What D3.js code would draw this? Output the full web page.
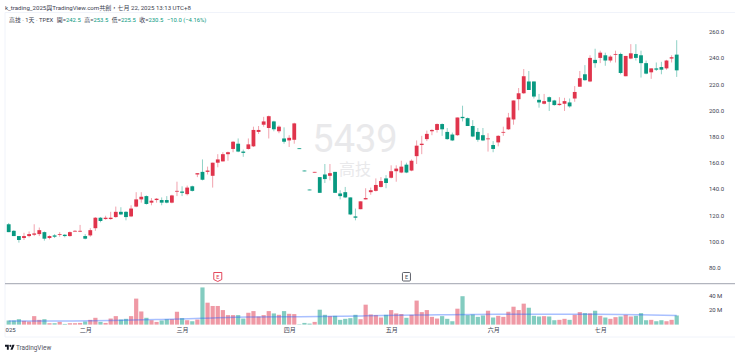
<!DOCTYPE html>
<html>
<head>
<meta charset="utf-8">
<script src="https://cdn.jsdelivr.net/npm/d3@7"></script>
<style>
    html, body { margin: 0; padding: 0; background: #fff; }
    svg { display: block; }
    text { font-family: Roboto, "Noto Sans CJK TC", sans-serif; }
    .axis text { fill: #3d4150; font-size: 6px; }
    .axis path, .axis line { display: none; }
</style>
</head>
<body>
<div id="chart"></div>
<script>
// daily candles, first session of 2025 to 22 July
var opens = [113,108,104,102.5,104,105,105.5,107,102.5,104.5,
    105,105,104,107.5,107.5,104,104.5,110,118,117,
    117,118.5,122.5,122.5,119,126.5,132,134.5,129.5,131.5,
    131.5,131.5,129.5,138,138,136,142,151,153,153,
    150,160,161,166.5,170.5,174.5,168.5,170.5,172.5,183.5,
    189,186.5,191.5,184,178.5,177,177.5,171,154,139.5,
    152.5,149,151,150,153,136.5,137.5,133.5,119,124.5,
    132,137.5,138.5,141.5,148,148.5,153.5,152.5,158.5,154,
    165,173.5,178,184,185,189.5,183.5,181.5,181,195,
    194,188,183.5,181,178,173.5,175.5,183,185.5,193,
    208.5,213,222,222,208,205,210,207.5,204,205,
    206,209,218,227.5,222,238.5,240,242,238,242.5,
    243,226,239.5,243,242,236,229,232,233,232,
    239.5,242.5];
var highs = [114,108.5,104,106.5,107.5,113,110.5,107.5,104.5,105.5,
    107,105.5,107.5,108.5,112.5,105.5,110,118.5,118.5,119.5,
    122.5,126.5,126,123,127.5,137.5,137.5,135,133,133,
    133.5,134.5,135.5,145.5,142,142.5,142.5,152,162.5,157,
    160,166.5,168,168.5,176.5,178.5,170,178.5,187.5,188,
    195,196,192,188.5,187,181,190.5,171,154,139.5,
    153,149,159,159,153,139,141.5,133.5,125,130.5,
    140.5,141,148,149,150.5,158,158,161.5,160,162.5,
    177,180.5,184.5,185.5,190,190,186.5,183,194.5,203.5,
    194.5,192.5,186.5,186.5,182.5,176.5,181,187.5,198,207.5,
    217,231.5,230,222,212.5,212.5,210.5,208,210,209.5,
    209,218.5,230,234.5,242,247,245.5,244,242,245.5,
    244,241.5,250.5,250.5,245.5,238,232,236.5,237,238.5,
    242,253.5];
var lows = [107,104,99,101,103,104,104,100.5,101.5,102.5,
    103.5,103,103.5,107.5,107,101.5,103.5,108,114.5,116.5,
    116.5,118,120,116,118.5,126,129.5,128,127.5,129.5,
    127.5,129,129,134.5,134.5,135,138,149,146.5,151,
    141,156.5,161,161.5,168,168,164.5,170,172,182,
    187.5,178.5,184,182.5,174.5,172,174.5,170.5,153.5,139,
    152.5,137,144.5,146.5,137,132,133,120,116,124.5,
    132,135.5,138,141,140.5,148,145.5,152,152,153.5,
    159,166.5,176.5,181,183,180.5,177.5,176.5,180.5,191.5,
    188,179.5,176,176.5,168.5,168,172.5,180.5,185,189,
    200,212.5,215.5,209,202,204.5,199.5,203.5,203.5,199.5,
    202,206.5,218,222.5,221.5,232.5,236,234,236.5,236.5,
    227.5,226,239,238,225,227.5,224,230,227.5,231,
    236.5,225.5];
var closes = [107,104,101,104,105.5,106,108.5,102,104,103.5,
    105.5,104,107,108,108,102,108.5,118,115.5,118,
    118,122.5,120.5,118.5,125,132,134,128.5,131,132.5,
    129.5,129.5,135,138.5,137,141,138.5,152,147,154,
    160,162.5,166.5,168,176,168.5,167.5,174,185,185,
    191.5,195.5,185.5,187.5,176,179,190,170.5,153.5,139,
    153,137,147.5,152,137,134.5,133.5,120.5,118,130.5,
    133,139,143,146,144.5,153.5,155.5,157,152.5,161.5,
    173,174.5,182,185,189.5,185.5,178,177,194.5,194,
    188,180,177.5,177,178.5,170.5,180.5,183.5,194.5,207.5,
    213,226,215.5,210.5,206,207,206.5,204,205,207,
    203,214,224.5,223,240,236,244,238,241,243,
    228.5,241.5,243.5,240,236,228,232,231,231,238,
    240.5,230.5];
// volume in millions of shares
var volumes = [5.6,5.6,7.4,5.1,4.2,11.6,6.5,7.4,1.9,1.9,
    3.7,0.9,1.9,1.9,2.3,4.2,6.5,9.3,3.7,2.3,
    8.3,11.6,6.9,7.9,11.6,35.6,18,9.3,6,3.7,
    5.6,7.4,7.4,17.6,8.8,6,4.6,6.9,50.9,30,
    25.5,25.5,19.9,13,13,13,8.3,16.2,18.5,11.1,
    13,18.5,15.3,13.4,18.5,14.8,14.4,0.5,2.3,1.4,
    3.7,20.4,13.4,11.6,12,6.5,7.9,8.8,13.4,7.4,
    27.3,13.9,13,9.7,13.4,19.9,15.3,14.4,9.3,13.4,
    32.9,17.1,19.9,10.6,8.3,11.6,7.9,4.6,21.8,38.9,
    13,13.9,10.6,12.5,19,9.7,12,10.6,17.6,24.5,
    19.9,28.7,23.1,12,11.1,11.6,11.1,6,6.5,7.9,
    6.5,13.4,17.1,15.7,15.3,19,12,9.7,7.9,10.2,
    11.1,13.4,11.1,12,15.7,6,6.5,4.6,6,4.6,
    6.5,12.5];
// volume average, read at a few sessions
var maSessions = [0,10,20,30,38,47,57,70,80,96,115,131];
var maValues = [5,5,5.5,7,8.6,10.4,10.9,12,13,14.3,14.3,12.5];

var priceTicks = [80,100,120,140,160,180,200,220,240,260];
var volumeTicks = [20,40];
var monthSessions = [0,15,34,55,75,95,116];
var monthLabels = ["025","二月","三月","四月","五月","六月","七月"];
var earningsSessions = [41,78];

var upColor = "#e0344c";
var downColor = "#089981";

var svgWidth = 740, svgHeight = 355;
var paneLeft = 5;

var svg = d3.select("#chart").append("svg")
    .attr("width", svgWidth)
    .attr("height", svgHeight);

var x = d3.scaleLinear().domain([0, 131]).range([8.7, 676.7]);
var y = d3.scaleLinear().domain([80, 260]).range([267.5, 31.7]);
var yVol = d3.scaleLinear().domain([0, 40]).range([324.6, 295.4]);

var candleColor = function(i) { return closes[i] >= opens[i] ? upColor : downColor; };
var sessions = d3.range(opens.length);

// pane frame
svg.append("g").selectAll("line")
    .data([[paneLeft, 12.5, 735, 12.5], [paneLeft, 12.5, paneLeft, 337], [paneLeft, 337, 735, 337]])
    .enter().append("line")
    .attr("x1", function(d) { return d[0]; })
    .attr("y1", function(d) { return d[1]; })
    .attr("x2", function(d) { return d[2]; })
    .attr("y2", function(d) { return d[3]; })
    .attr("stroke", "#f0f3fa");

svg.append("line")
    .attr("x1", paneLeft).attr("x2", 735)
    .attr("y1", 283.6).attr("y2", 283.6)
    .attr("stroke", "#b2b5be")
    .attr("stroke-width", 1.2);

// header
svg.append("text")
    .attr("x", 5).attr("y", 9.5)
    .attr("font-size", "6.1px")
    .attr("fill", "#3d4150")
    .text("k_trading_2025與TradingView.com共創，七月 22, 2025 13:13 UTC+8");

var legend = svg.append("text")
    .attr("x", 9).attr("y", 22.2)
    .attr("font-size", "5.9px")
    .attr("fill", "#3d4150");
legend.append("tspan").text("高技 · 1天 · TPEX");
[["開", "242.5"], ["高", "253.5"], ["低", "225.5"], ["收", "230.5"]].forEach(function(d, i) {
    legend.append("tspan").attr("dx", 3.6).text(d[0] + "=");
    legend.append("tspan").attr("fill", downColor).text(d[1]);
});
legend.append("tspan").attr("dx", 3.6).attr("fill", downColor).text("−10.0 (−4.16%)");

// watermark
svg.append("text")
    .attr("x", 355).attr("y", 152)
    .attr("text-anchor", "middle")
    .attr("font-size", "38px")
    .attr("fill", "#e9e9eb")
    .text("5439");
svg.append("text")
    .attr("x", 355).attr("y", 174.5)
    .attr("text-anchor", "middle")
    .attr("font-size", "16px")
    .attr("fill", "#e9e9eb")
    .text("高技");

// volume bars
svg.append("g").selectAll("rect")
    .data(sessions)
    .enter().append("rect")
    .attr("x", function(i) { return x(i) - 2.1; })
    .attr("y", function(i) { return yVol(volumes[i]); })
    .attr("width", 4.2)
    .attr("height", function(i) { return yVol(0) - yVol(volumes[i]); })
    .attr("fill", candleColor)
    .attr("fill-opacity", 0.5);

var maLine = d3.line()
    .x(function(i) { return x(i); })
    .y(function(i, k) { return yVol(maValues[k]); })
    .curve(d3.curveMonotoneX);

svg.append("path")
    .attr("d", maLine(maSessions))
    .attr("fill", "none")
    .attr("stroke", "#2962ff")
    .attr("stroke-opacity", 0.4)
    .attr("stroke-width", 1.5);

// candles
var candles = svg.append("g").selectAll("g")
    .data(sessions)
    .enter().append("g");

candles.append("line")
    .attr("x1", function(i) { return x(i); })
    .attr("x2", function(i) { return x(i); })
    .attr("y1", function(i) { return y(highs[i]); })
    .attr("y2", function(i) { return y(lows[i]); })
    .attr("stroke", candleColor)
    .attr("stroke-opacity", 0.45)
    .attr("stroke-width", 1);

candles.append("rect")
    .attr("x", function(i) { return x(i) - 1.9; })
    .attr("y", function(i) { return y(Math.max(opens[i], closes[i])); })
    .attr("width", 3.8)
    .attr("height", function(i) { return Math.max(0.8, Math.abs(y(opens[i]) - y(closes[i]))); })
    .attr("fill", candleColor);

// axes
svg.append("g")
    .attr("class", "axis")
    .attr("transform", "translate(703,0)")
    .call(d3.axisRight(y).tickValues(priceTicks).tickSize(0).tickPadding(6)
        .tickFormat(function(d) { return d3.format(".1f")(d); }));

svg.append("g")
    .attr("class", "axis")
    .attr("transform", "translate(703,0)")
    .call(d3.axisRight(yVol).tickValues(volumeTicks).tickSize(0).tickPadding(6)
        .tickFormat(function(d) { return d + "\u2009M"; }));

var monthAxis = svg.append("g")
    .attr("class", "axis")
    .attr("transform", "translate(0,331)");
monthAxis.call(d3.axisBottom(x).tickValues(monthSessions).tickSize(0).tickPadding(-3)
    .tickFormat(function(d, i) { return monthLabels[i]; }));

// the first label starts at the pane edge
monthAxis.selectAll(".tick").filter(function(d) { return d === 0; }).select("text")
    .attr("text-anchor", "start").attr("x", -3.7);

// earnings flags
earningsSessions.forEach(function(s, k) {
    var past = k === 0;
    var flag = svg.append("g").attr("transform", "translate(" + x(s) + ",277)");
    if (past) {
        flag.append("path")
            .attr("d", "M-4,-4.5H4V2.5L0,4.5L-4,2.5Z")
            .attr("fill", "#fff")
            .attr("stroke", upColor)
            .attr("stroke-width", 0.9);
    } else {
        flag.append("rect")
            .attr("x", -4).attr("y", -4.5).attr("width", 8).attr("height", 8.5).attr("rx", 1)
            .attr("fill", "#fff")
            .attr("stroke", "#4a4d57")
            .attr("stroke-width", 0.9);
    }
    flag.append("text")
        .attr("text-anchor", "middle")
        .attr("y", 2)
        .attr("font-size", "5.5px")
        .attr("fill", past ? upColor : "#4a4d57")
        .text("E");
});

// TradingView mark
var logo = svg.append("g").attr("transform", "translate(5,343.7) scale(0.27)").attr("fill", "#131722");
logo.append("path").attr("d", "M14 22H7V11H0V4h14v18zM28 22h-8l7.5-18h8L28 22z");
logo.append("circle").attr("cx", 20).attr("cy", 8).attr("r", 4);
svg.append("text")
    .attr("x", 16).attr("y", 349.5)
    .attr("font-size", "6.4px")
    .attr("fill", "#50535e")
    .text("TradingView");
</script>
</body>
</html>
